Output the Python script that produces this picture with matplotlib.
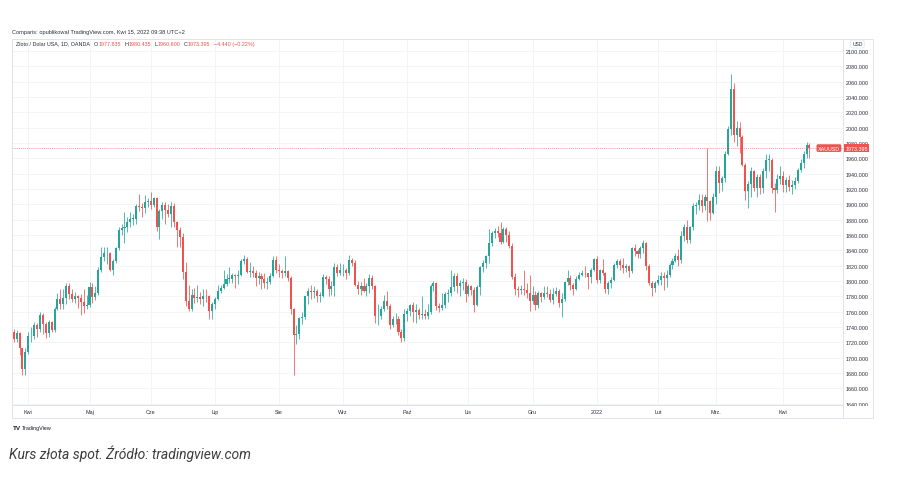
import numpy as np
import pandas as pd
import matplotlib
matplotlib.use("Agg")
import matplotlib.pyplot as plt
import matplotlib.transforms as mtransforms
from matplotlib.patches import Rectangle

plt.rcParams['font.family'] = ['Liberation Sans', 'DejaVu Sans']

# OANDA daily bars (no bar on Good Friday 2021 and on Christmas Eve)
dates = pd.bdate_range("2021-03-24", "2022-04-14")
dates = dates.drop([pd.Timestamp("2021-04-02"), pd.Timestamp("2021-12-24")])

# XAUUSD daily OHLC (one line per month)
opens = [
    1726, 1734, 1725, 1732, 1712, 1685,
    1708, 1728, 1728, 1743, 1737, 1756, 1744, 1732, 1746, 1736, 1764, 1777, 1770, 1778, 1793, 1783, 1777, 1780, 1778, 1773, 1768,
    1769, 1792, 1779, 1784, 1815, 1831, 1836, 1837, 1815, 1826, 1843, 1867, 1869, 1870, 1877, 1881, 1881, 1898, 1896, 1895, 1903,
    1905, 1899, 1908, 1871, 1891, 1899, 1893, 1888, 1898, 1877, 1866, 1858, 1812, 1774, 1764, 1782, 1778, 1779, 1776, 1781, 1780, 1761,
    1770, 1777, 1787, 1791, 1796, 1803, 1803, 1808, 1806, 1808, 1826, 1829, 1812, 1813, 1810, 1804, 1806, 1802, 1798, 1799, 1807, 1828,
    1814, 1813, 1810, 1813, 1804, 1763, 1729, 1731, 1752, 1753, 1780, 1787, 1786, 1787, 1781, 1781, 1805, 1803, 1790, 1793, 1818, 1810,
    1814, 1815, 1810, 1828, 1823, 1795, 1789, 1794, 1787, 1794, 1804, 1794, 1754, 1754, 1764, 1774, 1768, 1743, 1750, 1751, 1734, 1726,
    1757, 1761, 1769, 1760, 1762, 1756, 1757, 1754, 1760, 1794, 1797, 1767, 1765, 1769, 1783, 1784, 1792, 1806, 1793, 1797, 1799,
    1783, 1793, 1788, 1769, 1792, 1818, 1824, 1832, 1849, 1862, 1865, 1863, 1851, 1868, 1860, 1846, 1805, 1790, 1788, 1790, 1788, 1785,
    1774, 1782, 1769, 1784, 1779, 1785, 1783, 1775, 1783, 1787, 1771, 1777, 1799, 1804, 1795, 1790, 1803, 1808, 1811, 1810, 1805, 1815,
    1829, 1801, 1814, 1810, 1789, 1797, 1801, 1821, 1826, 1821, 1817, 1819, 1813, 1843, 1839, 1835, 1843, 1849, 1820, 1797, 1791,
    1797, 1801, 1807, 1804, 1808, 1821, 1826, 1833, 1827, 1859, 1871, 1853, 1870, 1898, 1899, 1906, 1898, 1910, 1904, 1889,
    1909, 1943, 1928, 1935, 1966, 1998, 2050, 1990, 2000, 1988, 1952, 1918, 1927, 1943, 1921, 1936, 1921, 1944, 1958, 1958, 1922, 1919, 1933,
    1937, 1925, 1932, 1923, 1925, 1931, 1945, 1954, 1966, 1977.835,
]
highs = [
    1737, 1737, 1736, 1733, 1713, 1712,
    1733, 1740, 1746, 1745, 1759, 1758, 1746, 1749, 1748, 1766, 1784, 1790, 1789, 1797, 1798, 1790, 1786, 1782, 1783, 1790, 1782,
    1799, 1798, 1793, 1818, 1845, 1845, 1844, 1838, 1829, 1845, 1870, 1875, 1890, 1883, 1890, 1887, 1900, 1913, 1902, 1912, 1908,
    1916, 1910, 1909, 1894, 1903, 1903, 1900, 1903, 1902, 1878, 1870, 1863, 1825, 1795, 1790, 1791, 1795, 1786, 1790, 1790, 1782, 1772,
    1779, 1795, 1795, 1815, 1809, 1818, 1811, 1809, 1815, 1829, 1834, 1831, 1825, 1820, 1815, 1812, 1810, 1810, 1805, 1810, 1832, 1832,
    1822, 1816, 1832, 1815, 1806, 1765, 1742, 1753, 1760, 1781, 1791, 1795, 1794, 1789, 1786, 1809, 1808, 1807, 1800, 1823, 1822, 1823,
    1822, 1817, 1834, 1830, 1827, 1800, 1799, 1804, 1797, 1809, 1808, 1795, 1770, 1768, 1782, 1787, 1770, 1755, 1758, 1755, 1738, 1764,
    1765, 1770, 1772, 1770, 1765, 1781, 1763, 1770, 1796, 1800, 1799, 1771, 1785, 1786, 1789, 1814, 1811, 1810, 1801, 1804, 1802,
    1796, 1795, 1792, 1795, 1819, 1828, 1834, 1868, 1865, 1869, 1872, 1877, 1871, 1870, 1865, 1849, 1811, 1794, 1795, 1815, 1798, 1808,
    1793, 1787, 1787, 1786, 1793, 1793, 1790, 1791, 1792, 1789, 1785, 1800, 1815, 1808, 1797, 1807, 1812, 1815, 1820, 1811, 1817, 1830,
    1832, 1816, 1829, 1812, 1800, 1805, 1823, 1829, 1829, 1830, 1822, 1821, 1845, 1848, 1842, 1846, 1853, 1851, 1822, 1800, 1800,
    1808, 1812, 1812, 1815, 1823, 1830, 1836, 1842, 1865, 1875, 1879, 1872, 1902, 1903, 1914, 1914, 1914, 1974, 1906, 1915,
    1950, 1950, 1937, 1970, 2002, 2070, 2058, 2009, 2008, 1990, 1954, 1930, 1949, 1945, 1940, 1939, 1947, 1966, 1966, 1960, 1928, 1939, 1950,
    1944, 1936, 1938, 1932, 1936, 1948, 1959, 1970, 1982, 1980.435,
]
lows = [
    1722, 1720, 1721, 1703, 1678, 1677,
    1705, 1721, 1725, 1727, 1733, 1731, 1726, 1727, 1733, 1734, 1762, 1763, 1764, 1770, 1776, 1772, 1771, 1765, 1756, 1758, 1764,
    1766, 1771, 1775, 1782, 1812, 1826, 1822, 1813, 1808, 1823, 1840, 1860, 1850, 1864, 1870, 1873, 1874, 1892, 1883, 1889, 1897,
    1894, 1896, 1865, 1855, 1881, 1874, 1884, 1870, 1870, 1845, 1845, 1803, 1767, 1761, 1761, 1771, 1773, 1770, 1767, 1773, 1751, 1750,
    1764, 1775, 1785, 1790, 1793, 1797, 1797, 1791, 1796, 1806, 1822, 1810, 1805, 1805, 1794, 1796, 1790, 1791, 1790, 1796, 1805, 1810,
    1805, 1804, 1806, 1800, 1757, 1677, 1718, 1725, 1744, 1750, 1770, 1776, 1778, 1773, 1772, 1779, 1796, 1780, 1782, 1780, 1806, 1808,
    1807, 1803, 1808, 1819, 1793, 1783, 1782, 1786, 1781, 1785, 1790, 1745, 1742, 1750, 1761, 1763, 1738, 1740, 1744, 1730, 1721, 1722,
    1748, 1754, 1746, 1745, 1750, 1750, 1750, 1750, 1757, 1787, 1762, 1759, 1762, 1765, 1772, 1780, 1787, 1785, 1780, 1788, 1772,
    1780, 1782, 1759, 1768, 1782, 1812, 1817, 1823, 1846, 1856, 1858, 1848, 1849, 1851, 1843, 1802, 1782, 1779, 1783, 1782, 1778, 1761,
    1770, 1762, 1765, 1772, 1777, 1779, 1772, 1770, 1780, 1766, 1753, 1774, 1795, 1788, 1782, 1788, 1801, 1806, 1805, 1789, 1797, 1813,
    1798, 1798, 1808, 1785, 1783, 1791, 1800, 1817, 1815, 1810, 1812, 1805, 1811, 1833, 1830, 1830, 1837, 1815, 1795, 1780, 1786,
    1795, 1795, 1788, 1792, 1805, 1816, 1825, 1819, 1823, 1852, 1850, 1850, 1866, 1887, 1893, 1890, 1893, 1878, 1879, 1887,
    1900, 1915, 1917, 1929, 1964, 1990, 1982, 1976, 1967, 1950, 1906, 1895, 1910, 1917, 1910, 1913, 1915, 1935, 1944, 1915, 1890, 1915, 1926,
    1916, 1916, 1917, 1914, 1920, 1928, 1942, 1948, 1960, 1960.6,
]
closes = [
    1734, 1725, 1732, 1712, 1685, 1708,
    1728, 1728, 1743, 1737, 1756, 1744, 1732, 1746, 1736, 1764, 1777, 1770, 1778, 1793, 1783, 1777, 1780, 1778, 1773, 1768, 1769,
    1792, 1779, 1784, 1815, 1831, 1836, 1837, 1815, 1826, 1843, 1867, 1869, 1870, 1877, 1881, 1881, 1898, 1896, 1895, 1903, 1905,
    1899, 1908, 1871, 1891, 1899, 1893, 1888, 1898, 1877, 1866, 1858, 1812, 1774, 1764, 1782, 1778, 1779, 1776, 1781, 1780, 1761, 1770,
    1777, 1787, 1791, 1796, 1803, 1803, 1808, 1806, 1808, 1826, 1829, 1812, 1813, 1810, 1804, 1806, 1802, 1798, 1799, 1807, 1828, 1814,
    1813, 1810, 1813, 1804, 1763, 1729, 1731, 1752, 1753, 1780, 1787, 1786, 1787, 1781, 1781, 1805, 1803, 1790, 1793, 1818, 1810, 1814,
    1815, 1810, 1828, 1823, 1795, 1789, 1794, 1787, 1794, 1804, 1794, 1754, 1754, 1764, 1774, 1768, 1743, 1750, 1751, 1734, 1726, 1757,
    1761, 1769, 1760, 1762, 1756, 1757, 1754, 1760, 1794, 1797, 1767, 1765, 1769, 1783, 1784, 1792, 1806, 1793, 1797, 1799, 1783,
    1793, 1788, 1769, 1792, 1818, 1824, 1832, 1849, 1862, 1865, 1863, 1851, 1868, 1860, 1846, 1805, 1790, 1788, 1790, 1788, 1785, 1774,
    1782, 1769, 1784, 1779, 1785, 1783, 1775, 1783, 1787, 1771, 1777, 1799, 1804, 1795, 1790, 1803, 1808, 1811, 1810, 1805, 1815, 1829,
    1801, 1814, 1810, 1789, 1797, 1801, 1821, 1826, 1821, 1817, 1819, 1813, 1843, 1839, 1835, 1843, 1849, 1820, 1797, 1791, 1797,
    1801, 1807, 1804, 1808, 1821, 1826, 1833, 1827, 1859, 1871, 1853, 1870, 1898, 1899, 1906, 1898, 1910, 1904, 1889, 1909,
    1943, 1928, 1935, 1966, 1998, 2050, 1990, 2000, 1988, 1952, 1918, 1927, 1943, 1921, 1936, 1921, 1944, 1958, 1958, 1922, 1919, 1933, 1937,
    1925, 1932, 1923, 1925, 1931, 1945, 1954, 1966, 1977, 1973.395,
]
assert len(dates) == len(opens) == len(highs) == len(lows) == len(closes)

month_names = ["Kwi", "Maj", "Cze", "Lip", "Sie", "Wrz", "Paź", "Lis", "Gru", "2022", "Lut", "Mrz.", "Kwi"]
price_ticks = list(range(1640, 2101, 20))

GREEN = "#26a69a"
RED = "#ef5350"
BORDER = "#e0e3eb"
GRID = "#f2f4f8"
TXT = "#2a2e39"

W, H = 899, 485
def fx(x):  # pixel -> figure fraction
    return x / W
def fy(y):
    return 1 - y / H

fig = plt.figure(figsize=(W / 100, H / 100), dpi=100)
fig.patch.set_facecolor("white")

# pane: x 12..843, y 40..406 (pixels)
ax = fig.add_axes([fx(12), fy(406), (843 - 12) / W, (406 - 40) / H])

o = np.array(opens, dtype=float)
h = np.array(highs, dtype=float)
l = np.array(lows, dtype=float)
c = np.array(closes, dtype=float)
x = np.arange(len(c))
cols = np.where(c >= o, GREEN, RED)

ax.vlines(x, l, h, colors=cols, linewidth=0.55, zorder=2)
ax.bar(x, np.maximum(np.abs(c - o), 0.8), bottom=np.minimum(o, c), width=0.7,
       color=cols, linewidth=0, zorder=3)

# month starts for the time axis
first = pd.Series(np.arange(len(dates)), index=dates)
month_idx = first.groupby([dates.year, dates.month]).first().values[1:]
ax.set_xticks(month_idx)
ax.set_xticklabels(month_names)

i_apr = month_idx[0]
ax.set_xlim(i_apr - 5.59, i_apr + 279.5)
ax.set_ylim(1638.3, 2115.7)

ax.yaxis.tick_right()
ax.set_yticks(price_ticks)
ax.set_yticklabels([f"{v:.3f}" for v in price_ticks])
ax.tick_params(axis="y", length=0, pad=2.2, labelsize=3.9, labelcolor=TXT)
ax.tick_params(axis="x", length=0, pad=2.6, labelsize=3.9, labelcolor=TXT)
ax.grid(True, color=GRID, linewidth=0.7, zorder=0)
ax.set_axisbelow(True)
for s in ax.spines.values():
    s.set_color(BORDER)
    s.set_linewidth(0.7)

# last price line and labels
last = closes[-1]
ax.axhline(last, color=RED, linewidth=0.5, linestyle=(0, (1.5, 1.5)), alpha=0.8, zorder=1)
trans = mtransforms.blended_transform_factory(ax.transAxes, ax.transData)
ax.text(1 - 3 / 831, last, "XAUUSD", transform=trans, ha="right", va="center", fontsize=3.9,
        color="white", bbox=dict(boxstyle="round,pad=0.25,rounding_size=0.3", fc=RED, ec="none"),
        zorder=6, clip_on=False)
ax.text(1 + 2.5 / 831, last, f"{last:.3f}", transform=trans, ha="left", va="center", fontsize=3.9,
        color="white", bbox=dict(boxstyle="square,pad=0.25", fc=RED, ec="none"),
        zorder=6, clip_on=False)

# cover the lowest price label under the time axis, then draw the outer frame
fig.patches.append(Rectangle((fx(843.6), fy(418.5)), 29 / W, 12 / H, transform=fig.transFigure,
                             fc="white", ec="none", zorder=1))
fig.patches.append(Rectangle((fx(12), fy(419)), (873 - 12) / W, (419 - 40) / H, transform=fig.transFigure,
                             fill=False, ec=BORDER, lw=0.7, zorder=2))
fig.add_artist(plt.Line2D([fx(843), fx(843)], [fy(406), fy(419)], color=BORDER, lw=0.7, zorder=2))

fig.text(fx(857.5), fy(45), "USD", fontsize=3.6, color=TXT, ha="center", va="center",
         bbox=dict(boxstyle="round,pad=0.3,rounding_size=0.4", fc="white", ec=BORDER, lw=0.5))

# header
fig.text(fx(12.5), fy(32.3), "Comparis: opublikował TradingView.com, Kwi 15, 2022 09:38 UTC+2",
         fontsize=4.1, color=TXT, va="center")
legend_parts = [("O", TXT, 2.8, 0), ("1977.835", RED, 0.2, 0), ("H", TXT, 2.4, 0), ("1980.435", RED, 0.2, 0),
                ("L", TXT, 2.4, 0), ("1960.600", RED, 0.2, 0), ("C", TXT, 2.4, 0), ("1973.395", RED, 0.2, 0),
                ("−4.440 (−0.22%)", RED, 2.4, -0.6)]
prev = fig.text(fx(16), fy(44), "Złoto / Dolar USA, 1D, OANDA", fontsize=3.9, color=TXT, va="center")
for s, col, gap, dy in legend_parts:
    prev = ax.annotate(s, xy=(1, 0), xycoords=prev, xytext=(gap, dy), textcoords="offset points",
                       fontsize=3.9, color=col, ha="left", va="bottom", annotation_clip=False)

# tradingview logo
fig.text(fx(13), fy(428.5), "TV", fontsize=4.6, fontweight="heavy", color="#131722", va="center")
fig.text(fx(22), fy(428.5), "TradingView", fontsize=3.9, color="#131722", va="center")

# caption
fig.text(fx(9), fy(454), "Kurs złota spot. Źródło: tradingview.com", fontsize=10, style="italic",
         family=["Roboto", "DejaVu Sans"], color="#3c3c3c", va="center")

fig.savefig("out.png", dpi=100, facecolor="white")
